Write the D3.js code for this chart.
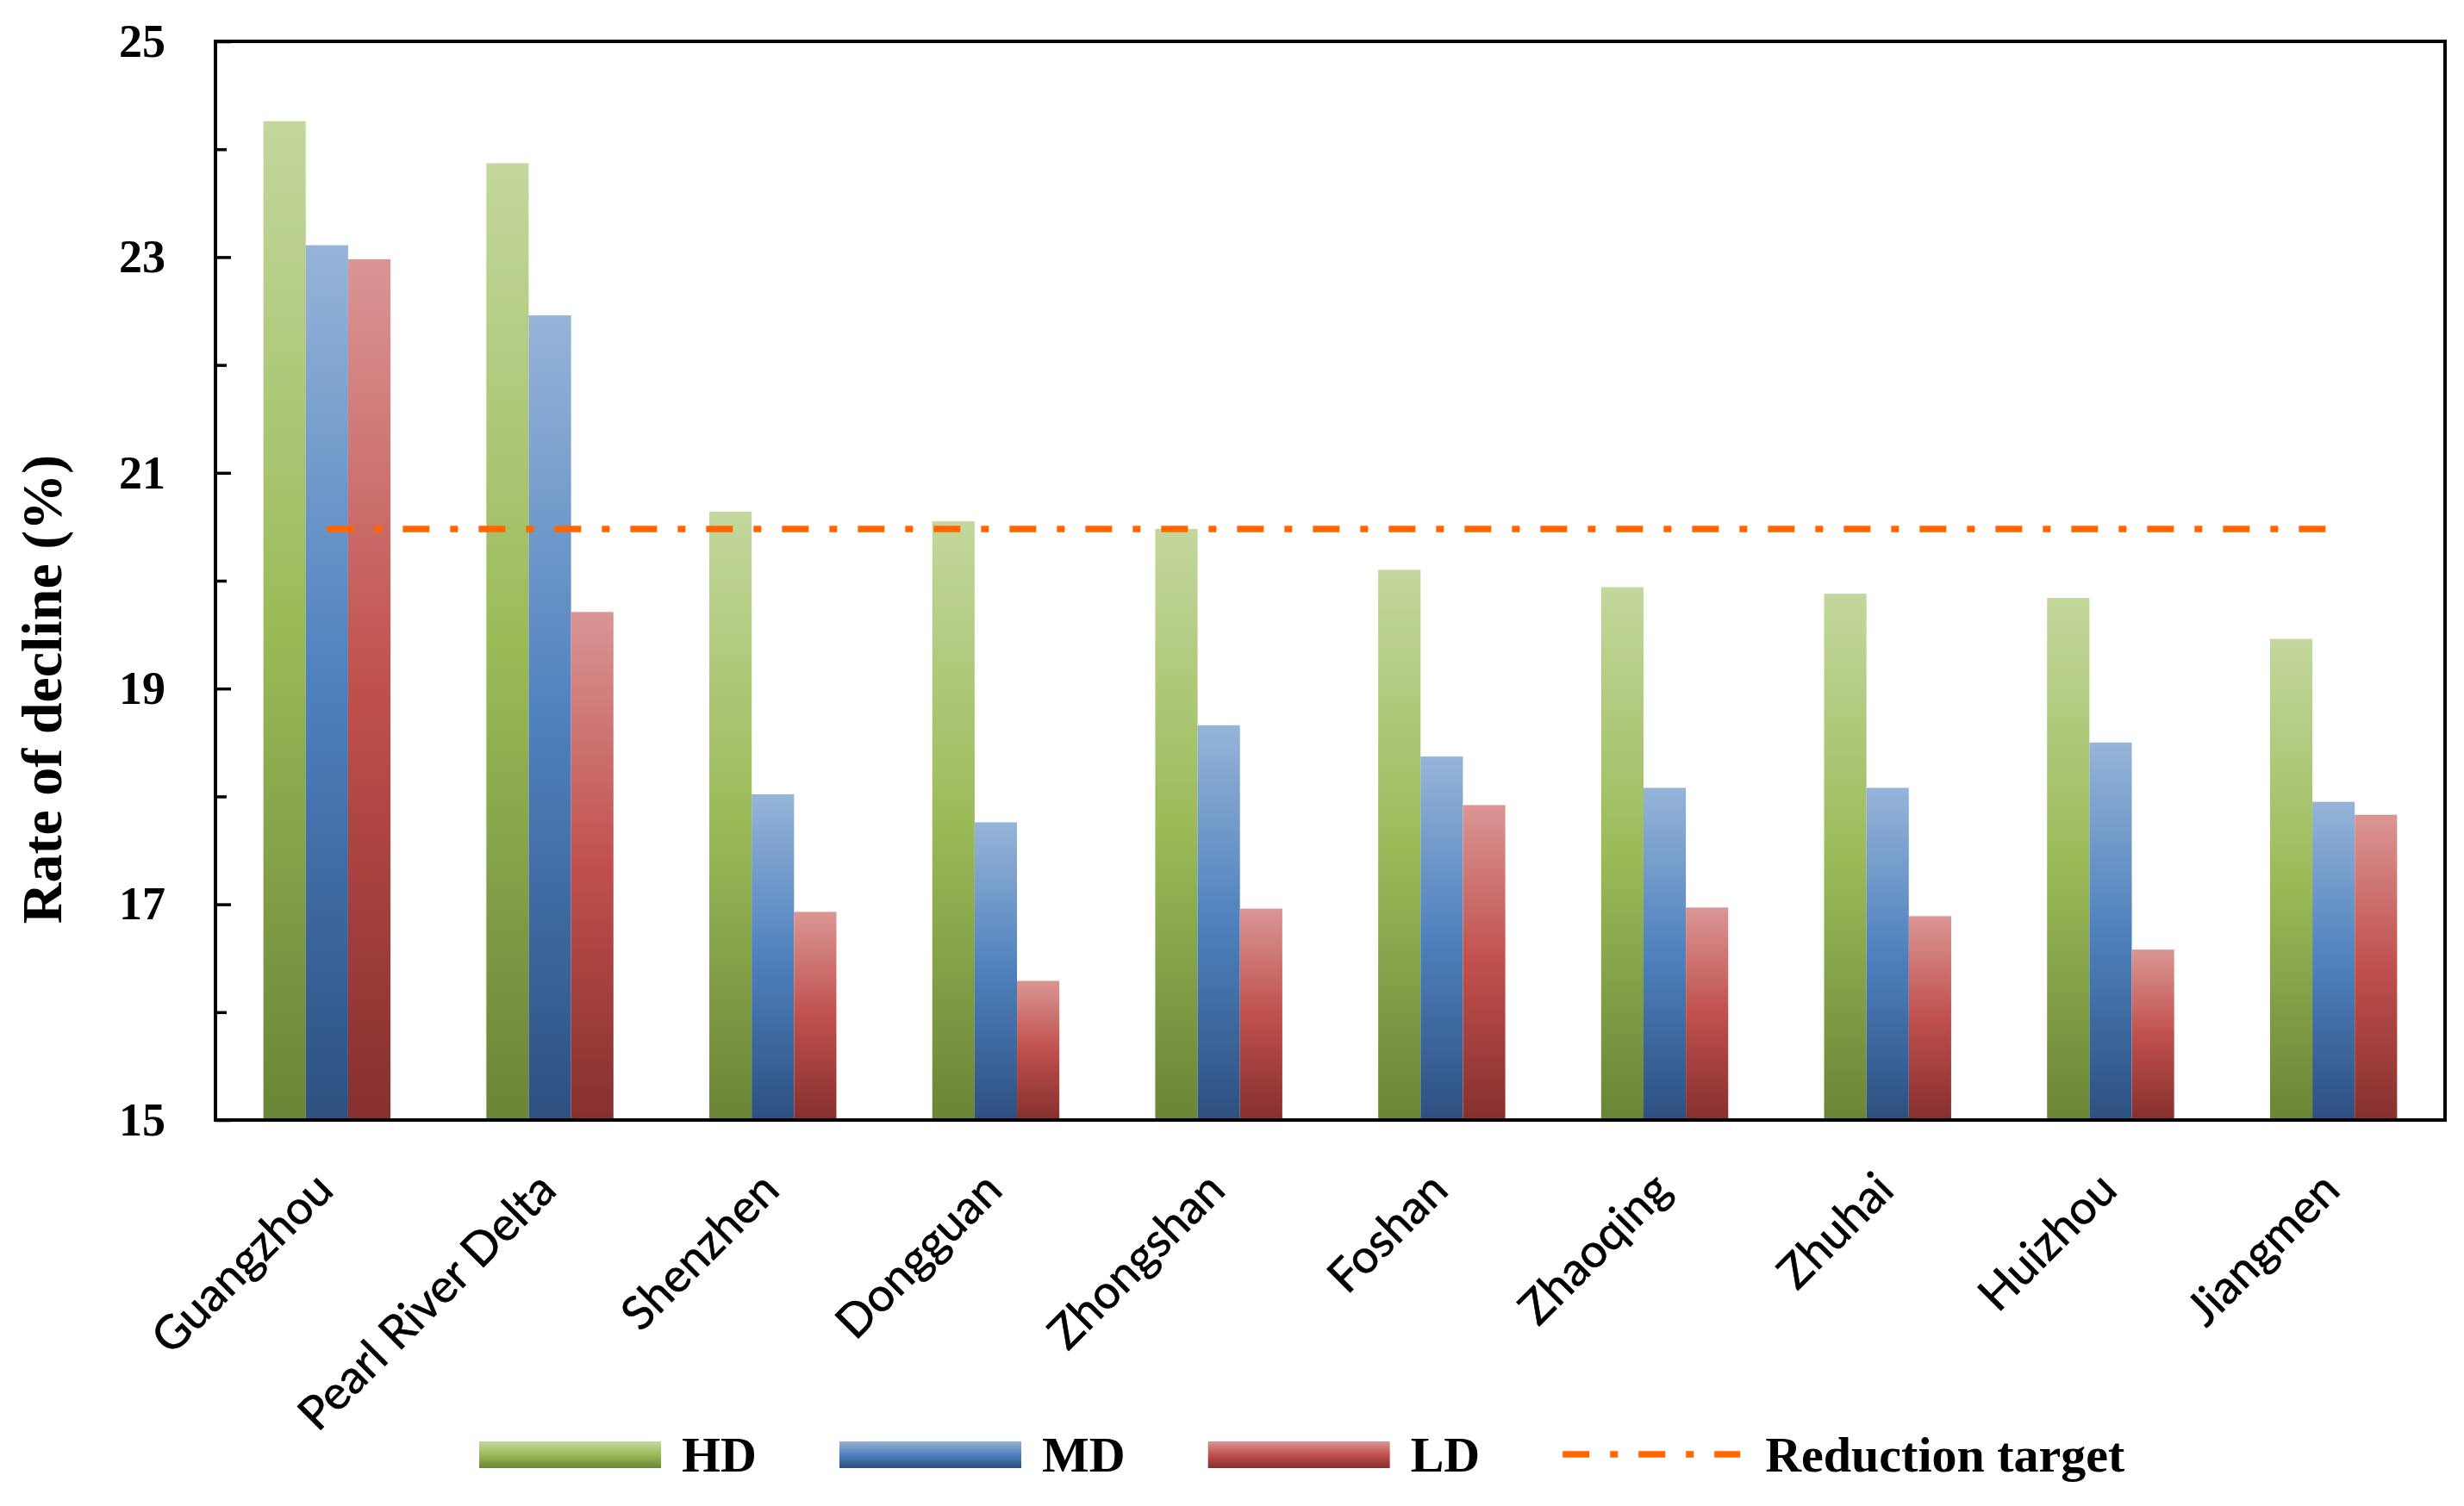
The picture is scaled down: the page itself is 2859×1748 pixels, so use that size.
<!DOCTYPE html>
<html>
<head>
<meta charset="utf-8">
<script src="https://cdn.jsdelivr.net/npm/d3@7"></script>
<style>
  body { margin: 0; background: #fff; }
</style>
</head>
<body>
<script>
var categories = ["Guangzhou", "Pearl River Delta", "Shenzhen", "Dongguan", "Zhongshan",
                  "Foshan", "Zhaoqing", "Zhuhai", "Huizhou", "Jiangmen"];
var seriesNames = ["HD", "MD", "LD"];
var hdValues = [24.26, 23.87, 20.64, 20.55, 20.48, 20.10, 19.94, 19.88, 19.84, 19.46];
var mdValues = [23.11, 22.46, 18.02, 17.76, 18.66, 18.37, 18.08, 18.08, 18.50, 17.95];
var ldValues = [22.98, 19.71, 16.93, 16.29, 16.96, 17.92, 16.97, 16.89, 16.58, 17.83];
var targetValues = [20.48, 20.48, 20.48, 20.48, 20.48, 20.48, 20.48, 20.48, 20.48, 20.48];
var targetName = "Reduction target";
var yMajorTicks = [15, 17, 19, 21, 23, 25];
var yMinorTicks = [16, 18, 20, 22, 24];
var yTitle = "Rate of decline (%)";

var W = 2859, H = 1748;
var plotLeft = 250, plotRight = 2837, plotTop = 48, plotBottom = 1300;

// light top, base middle, shade bottom (office 2007 style)
var gradients = {
    HD: ["#c4d79d", "#9bbb59", "#6a8535"],
    MD: ["#96b4d8", "#4f81bd", "#2d5080"],
    LD: ["#da9694", "#c0504d", "#86302e"]
};

var serif = "'Liberation Serif', 'Times New Roman', serif";

var svg = d3.select("body").append("svg")
    .attr("xmlns", "http://www.w3.org/2000/svg")
    .attr("width", W)
    .attr("height", H);

var defs = svg.append("defs");
seriesNames.forEach(function(name) {
    var g = defs.append("linearGradient")
        .attr("id", "grad" + name)
        .attr("x1", 0).attr("y1", 0).attr("x2", 0).attr("y2", 1);
    g.append("stop").attr("offset", "0%").attr("stop-color", gradients[name][0]);
    g.append("stop").attr("offset", "50%").attr("stop-color", gradients[name][1]);
    g.append("stop").attr("offset", "100%").attr("stop-color", gradients[name][2]);
});

var x = d3.scaleBand()
    .domain(categories)
    .range([plotLeft, plotRight])
    .paddingInner(0.43)
    .paddingOuter(0.215);

var xs = d3.scaleBand()
    .domain(seriesNames)
    .range([0, x.bandwidth()]);

var y = d3.scaleLinear()
    .domain([15, 25])
    .range([plotBottom, plotTop]);

var table = categories.map(function(c, i) {
    return { cat: c, HD: hdValues[i], MD: mdValues[i], LD: ldValues[i] };
});

//bars
svg.append("g").selectAll("g").data(table)
    .enter()
    .append("g")
    .attr("transform", function(d) { return "translate(" + x(d.cat) + ",0)"; })
    .selectAll("rect")
    .data(function(d) { return seriesNames.map(function(s) { return { key: s, value: d[s] }; }); })
    .enter()
    .append("rect")
    .attr("x", function(d) { return xs(d.key); })
    .attr("y", function(d) { return y(d.value); })
    .attr("width", xs.bandwidth())
    .attr("height", function(d) { return y(15) - y(d.value); })
    .attr("fill", function(d) { return "url(#grad" + d.key + ")"; });

//reduction target line
var line = d3.line()
    .x(function(d, i) { return x(categories[i]) + x.bandwidth() / 2; })
    .y(function(d) { return y(d); });

svg.append("path")
    .datum(targetValues)
    .attr("d", line)
    .attr("fill", "none")
    .attr("stroke", "#ff6600")
    .attr("stroke-width", 7.5)
    .attr("stroke-dasharray", "31,24,9,24");

//y axis: major ticks with labels, minor ticks without
var yAxis = svg.append("g")
    .attr("transform", "translate(" + plotLeft + ",0)")
    .call(d3.axisLeft(y).tickValues(yMajorTicks).tickSize(-18).tickPadding(58).tickFormat(d3.format("d")));
yAxis.select(".domain").remove();
yAxis.selectAll("line").attr("stroke", "#000").attr("stroke-width", 3.5);
yAxis.selectAll("text")
    .attr("font-family", serif)
    .attr("font-weight", "bold")
    .attr("font-size", "54px")
    .attr("fill", "#000");

var yMinor = svg.append("g")
    .attr("transform", "translate(" + plotLeft + ",0)")
    .call(d3.axisLeft(y).tickValues(yMinorTicks).tickSize(-13).tickFormat(""));
yMinor.select(".domain").remove();
yMinor.selectAll("line").attr("stroke", "#000").attr("stroke-width", 3.5);

//x axis labels
var xAxis = svg.append("g")
    .attr("transform", "translate(0," + plotBottom + ")")
    .call(d3.axisBottom(x).tickSize(0));
xAxis.select(".domain").remove();
xAxis.selectAll("text")
    .attr("font-family", "Lato, 'Open Sans', sans-serif")
    .attr("font-size", "54px")
    .attr("fill", "#000")
    .attr("stroke", "#000")
    .attr("stroke-width", 0.6)
    .attr("text-anchor", "end")
    .attr("dy", null)
    .attr("y", 0)
    .attr("transform", "translate(10,84) rotate(-45)");

//frame
svg.append("rect")
    .attr("x", plotLeft)
    .attr("y", plotTop)
    .attr("width", plotRight - plotLeft)
    .attr("height", plotBottom - plotTop)
    .attr("fill", "none")
    .attr("stroke", "#000")
    .attr("stroke-width", 4);

svg.append("text")
    .attr("font-family", serif)
    .attr("font-weight", "bold")
    .attr("font-size", "66px")
    .attr("text-anchor", "middle")
    .attr("transform", "translate(71,800) rotate(-90)")
    .text(yTitle);

//legend
var legendY = 1688;
var lx = 556;
var legendItems = seriesNames.concat([targetName]);
legendItems.forEach(function(name, i) {
    if (i < seriesNames.length) {
        svg.append("rect")
            .attr("x", lx).attr("y", legendY - 15)
            .attr("width", 211).attr("height", 31)
            .attr("fill", "url(#grad" + name + ")");
    } else {
        svg.append("line")
            .attr("x1", lx).attr("x2", lx + 206)
            .attr("y1", legendY).attr("y2", legendY)
            .attr("stroke", "#ff6600")
            .attr("stroke-width", 7.5)
            .attr("stroke-dasharray", "31,24,9,24");
    }
    var t = svg.append("text")
        .attr("x", lx + 235)
        .attr("y", legendY + 20)
        .attr("font-family", serif)
        .attr("font-weight", "bold")
        .attr("font-size", "58px")
        .text(name);
    lx = lx + 235 + t.node().getComputedTextLength() + 96;
});
</script>
</body>
</html>
